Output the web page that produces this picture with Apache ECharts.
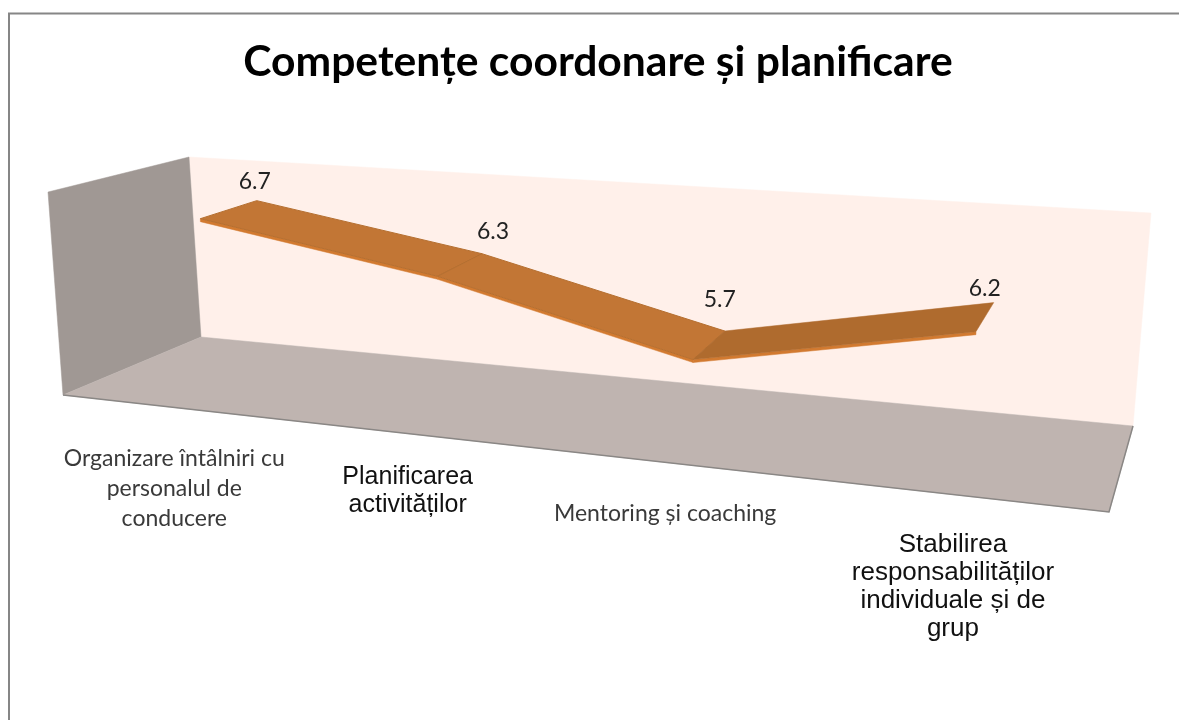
<!DOCTYPE html>
<html>
<head>
<meta charset="utf-8">
<title>Competențe coordonare și planificare</title>
<script src="https://cdn.jsdelivr.net/npm/echarts@6/dist/echarts.min.js"></script>
<style>
html, body { margin: 0; padding: 0; background: #fff; }
#main { width: 1179px; height: 720px; }
</style>
</head>
<body>
<div id="main"></div>
<script>
var chartTitle = 'Competențe coordonare și planificare';
var categories = [
    'Organizare întâlniri cu\npersonalul de\nconducere',
    'Planificarea\nactivităților',
    'Mentoring și coaching',
    'Stabilirea\nresponsabilităților\nindividuale și de\ngrup'
];
var values = [6.7, 6.3, 5.7, 6.2];
var valueLabels = ['6.7', '6.3', '5.7', '6.2'];
var axisMin = 4.9;
var axisMax = 7;

// corners of the drawn 3d box: front/back, bottom/top, left/right
var box = {
    fbl: [63, 395], fbr: [1109, 512], bbl: [201, 337], bbr: [1133, 426],
    ftl: [48, 192], ftr: [1128, 273], btl: [189, 157], btr: [1151, 213]
};
var perspective = 1.2;
var ribbonFront = 0.28, ribbonBack = 0.72, ribbonEdge = 3;

// small shifts of the texts, the original placed them by hand
var valueNudge = [[-2, -19], [11, -22], [-5, -31], [-9, -14]];
var categoryNudge = [[0, 0], [-4, -7], [-6, 0], [-3, 0]];
var categoryFont = [
    '23px Lato', '25px "Liberation Sans"', '23px Lato', '26px "Liberation Sans"'
];
var categoryColor = ['#3a3a3a', '#111111', '#3a3a3a', '#111111'];
var categoryLine = [30, 28, 30, 28];

function lerp(a, b, t) {
    return [a[0] + (b[0] - a[0]) * t, a[1] + (b[1] - a[1]) * t];
}

// u along categories, h up, d from front to back, all 0..1
function warp(u, h, d) {
    u = u / (u + perspective * (1 - u));
    var fb = lerp(box.fbl, box.fbr, u), ft = lerp(box.ftl, box.ftr, u);
    var bb = lerp(box.bbl, box.bbr, u), bt = lerp(box.btl, box.btr, u);
    return lerp(lerp(fb, ft, h), lerp(bb, bt, h), d);
}

function poly(points, fill, stroke) {
    return {
        type: 'polygon',
        shape: { points: points },
        style: { fill: fill, stroke: stroke || fill, lineWidth: stroke ? 1 : 0.5 }
    };
}

var renderWalls = function () {
    return {
        type: 'group',
        children: [
            poly([box.btl, box.btr, box.bbr, box.bbl], '#fff0ea'),
            poly([box.ftl, box.btl, box.bbl, box.fbl], '#a09894'),
            poly([box.bbl, box.bbr, box.fbr, box.fbl], '#bfb4b0'),
            {
                type: 'polyline',
                shape: { points: [box.fbl, box.fbr, box.bbr] },
                style: { fill: null, stroke: '#8a8785', lineWidth: 1.5 }
            }
        ]
    };
};

var renderLine = function (params, api) {
    var i = api.value(0);
    var c = params.coordSys;
    var norm = function (idx, val) {
        var p = api.coord([idx, val]);
        return [(p[0] - c.x) / c.width, (c.y + c.height - p[1]) / c.height];
    };
    var a = norm(i, api.value(1));
    var children = [];

    if (i < values.length - 1) {
        var b = norm(i + 1, values[i + 1]);
        var af = warp(a[0], a[1], ribbonFront), ab = warp(a[0], a[1], ribbonBack);
        var bf = warp(b[0], b[1], ribbonFront), bb = warp(b[0], b[1], ribbonBack);
        var rising = b[1] > a[1];
        children.push(poly(
            [af, bf, [bf[0], bf[1] + ribbonEdge], [af[0], af[1] + ribbonEdge]],
            '#d27a30'
        ));
        children.push(poly([af, ab, bb, bf], rising ? '#af6b2e' : '#c27635', rising ? null : '#b56f30'));
    }

    var back = warp(a[0], a[1], ribbonBack);
    children.push({
        type: 'text',
        z2: 10,
        style: {
            text: valueLabels[i],
            x: back[0] + valueNudge[i][0],
            y: back[1] + valueNudge[i][1],
            align: 'center',
            verticalAlign: 'middle',
            font: '23px Lato',
            fill: '#222222'
        }
    });

    var foot = warp(a[0], 0, 0);
    children.push({
        type: 'text',
        z2: 10,
        style: {
            text: categories[i],
            x: foot[0] + categoryNudge[i][0],
            y: foot[1] + 36 + categoryNudge[i][1],
            align: 'center',
            verticalAlign: 'top',
            font: categoryFont[i],
            lineHeight: categoryLine[i],
            fill: categoryColor[i]
        }
    });
    return { type: 'group', children: children };
};

var myChart = echarts.init(document.getElementById('main'));

myChart.setOption({
    animation: false,
    title: {
        text: chartTitle,
        left: 593,
        top: 36,
        textAlign: 'center',
        textStyle: { fontFamily: 'Lato', fontWeight: 'bold', fontSize: 42.6, color: '#000' }
    },
    grid: { left: 0, right: 0, top: 0, bottom: 0 },
    xAxis: { type: 'category', data: categories, show: false },
    yAxis: { type: 'value', min: axisMin, max: axisMax, show: false },
    graphic: [{
        type: 'polyline',
        shape: { points: [[9, 720], [9, 13.5], [1179, 13.5]] },
        style: { fill: null, stroke: '#868686', lineWidth: 2 }
    }],
    series: [{
        type: 'custom',
        silent: true,
        clip: false,
        z: 1,
        data: [[0, axisMin]],
        renderItem: renderWalls
    }, {
        type: 'custom',
        name: chartTitle,
        silent: true,
        clip: false,
        z: 2,
        encode: { x: 0, y: 1 },
        data: values.map(function (v, i) { return [i, v]; }),
        renderItem: renderLine
    }]
});
</script>
</body>
</html>
